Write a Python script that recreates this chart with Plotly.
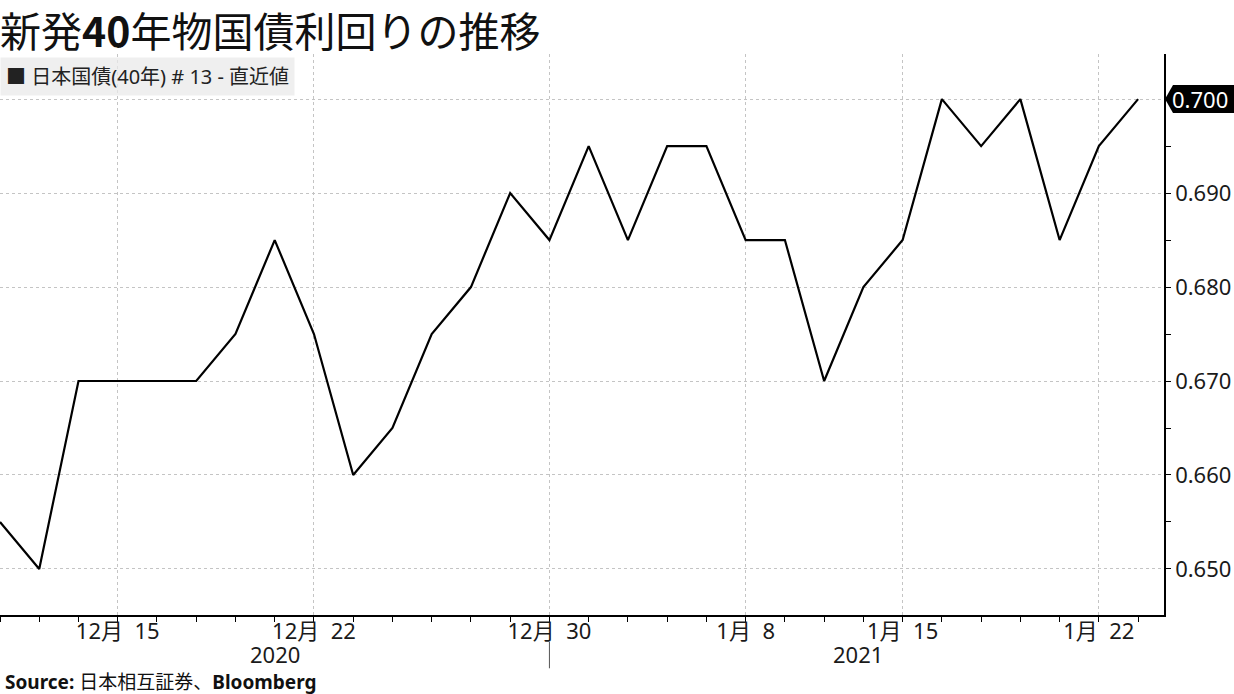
import plotly.graph_objects as go

# ---- data ----
dates = ["2020-12-10", "2020-12-11", "2020-12-14", "2020-12-15", "2020-12-16",
         "2020-12-17", "2020-12-18", "2020-12-21", "2020-12-22", "2020-12-23",
         "2020-12-24", "2020-12-25", "2020-12-28", "2020-12-29", "2020-12-30",
         "2021-01-04", "2021-01-05", "2021-01-06", "2021-01-07", "2021-01-08",
         "2021-01-12", "2021-01-13", "2021-01-14", "2021-01-15", "2021-01-18",
         "2021-01-19", "2021-01-20", "2021-01-21", "2021-01-22", "2021-01-25"]
yields = [0.655, 0.650, 0.670, 0.670, 0.670, 0.670, 0.675, 0.685, 0.675, 0.660,
          0.665, 0.675, 0.680, 0.690, 0.685, 0.695, 0.685, 0.695, 0.695, 0.685,
          0.685, 0.670, 0.680, 0.685, 0.700, 0.695, 0.700, 0.685, 0.695, 0.700]
tick_dates = ["2020-12-15", "2020-12-22", "2020-12-30", "2021-01-08", "2021-01-15", "2021-01-22"]
tick_labels = ["12月\u00a0\u00a015", "12月\u00a0\u00a022", "12月\u00a0\u00a030",
               "1月\u00a0\u00a08", "1月\u00a0\u00a015", "1月\u00a0\u00a022"]
y_ticks = [0.650, 0.660, 0.670, 0.680, 0.690, 0.700]
year_labels = ["2020", "2021"]
series_name = "日本国債(40年) # 13 - 直近値"
title_html = "新発<b>40</b>年物国債利回りの推移"
source_html = "<b>Source:</b> 日本相互証券、<b>Bloomberg</b>"

xs = list(range(len(dates)))
tickvals = [dates.index(d) for d in tick_dates]
year_break = dates.index("2020-12-30")
last = yields[-1]
# the last-value badge covers the matching axis label
y_ticktext = ["" if abs(v - last) < 1e-9 else f"{v:.3f}" for v in y_ticks]

FONT = "Noto Sans, Noto Sans CJK JP, sans-serif"
GRID = "#c4c4c4"
AXFONT = dict(size=22, family=FONT, color="#1a1a1a")

fig = go.Figure()
fig.add_trace(go.Scatter(
    x=xs, y=yields, customdata=dates, mode="lines", name=series_name,
    line=dict(color="#000000", width=2.2), showlegend=False,
    hovertemplate="%{customdata}: %{y:.3f}<extra></extra>",
))

fig.update_layout(
    width=1234, height=694,
    margin=dict(l=0, r=70, t=54, b=79, autoexpand=False),
    paper_bgcolor="white", plot_bgcolor="white",
    font=dict(family=FONT, color="#1a1a1a", size=19),
    xaxis=dict(
        range=[0, 29.66], tickmode="array", tickvals=tickvals, ticktext=tick_labels,
        showgrid=True, gridcolor=GRID, griddash="dot", gridwidth=1,
        showline=True, linecolor="#000000", linewidth=1.5,
        ticks="outside", ticklen=5, tickcolor="#000000", tickwidth=1,
        minor=dict(dtick=1, tick0=0, ticks="outside", ticklen=5, tickcolor="#000000",
                   showgrid=False),
        tickfont=AXFONT, ticklabelstandoff=-9,
        zeroline=False, fixedrange=True, automargin=False,
    ),
    yaxis=dict(
        side="right", range=[0.6451, 0.7048], tickmode="array",
        tickvals=y_ticks, ticktext=y_ticktext,
        showgrid=True, gridcolor=GRID, griddash="dot", gridwidth=1,
        showline=True, linecolor="#000000", linewidth=1.5,
        ticks="outside", ticklen=5, tickcolor="#000000", tickwidth=1,
        minor=dict(dtick=0.005, tick0=0.65, ticks="outside", ticklen=5,
                   tickcolor="#000000", showgrid=False),
        tickfont=AXFONT,
        zeroline=False, fixedrange=True, automargin=False,
    ),
)

annotations = [
    dict(text=title_html, xref="paper", yref="paper", x=0, y=1.0446,
         xanchor="left", yanchor="middle", showarrow=False, xshift=-2,
         font=dict(size=41, family="Noto Sans CJK JP, sans-serif", color="#111111")),
    dict(text="■ " + series_name, xref="paper", yref="paper", x=0, y=0.995,
         xanchor="left", yanchor="top", showarrow=False, align="left",
         bgcolor="rgba(234,234,234,0.75)", borderpad=5,
         font=dict(size=20, family=FONT, color="#222222")),
    dict(text=year_labels[0], xref="x", yref="paper", x=7, y=-0.0695,
         xanchor="center", yanchor="middle", showarrow=False, font=AXFONT),
    dict(text=year_labels[1], xref="x", yref="paper", x=21.85, y=-0.0695,
         xanchor="center", yanchor="middle", showarrow=False, font=AXFONT),
    dict(text=source_html, xref="paper", yref="paper", x=0, y=-0.1194,
         xanchor="left", yanchor="middle", showarrow=False, xshift=3,
         font=dict(size=19, family=FONT, color="#111111")),
    dict(text=f"{last:.3f}", xref="paper", yref="y", x=1, y=last,
         xanchor="left", yanchor="middle", showarrow=False, xshift=6,
         font=dict(size=22, family=FONT, color="#ffffff")),
]
fig.update_layout(annotations=annotations)

fig.add_shape(type="path", xref="paper", yref="y", xsizemode="pixel", ysizemode="pixel",
              xanchor=1, yanchor=last,
              path="M1,0 L9,14 L72,14 L72,-14 L9,-14 Z",
              fillcolor="#000000", line=dict(width=0), layer="above")
fig.add_shape(type="line", xref="x", yref="paper", x0=year_break, x1=year_break,
              y0=-0.048, y1=-0.095, line=dict(color="#555555", width=1))

fig.write_html("out.html", config={"displayModeBar": False},
               post_script="document.body.style.margin='0';document.body.style.overflow='hidden';")
